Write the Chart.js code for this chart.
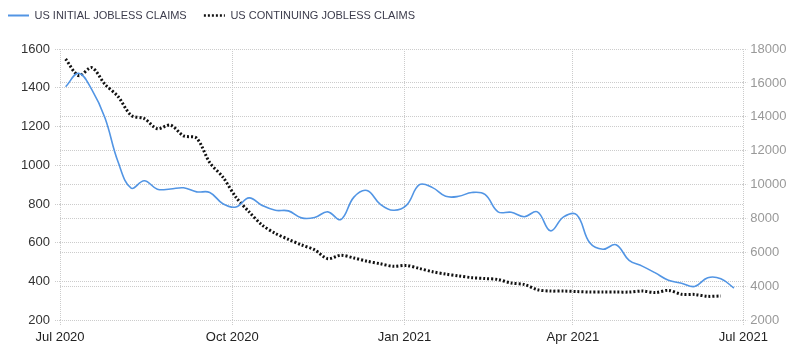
<!DOCTYPE html>
<html>
<head>
<meta charset="utf-8">
<script src="https://cdn.jsdelivr.net/npm/chart.js@4.4.1/dist/chart.umd.min.js"></script>
<style>
  html, body { margin: 0; padding: 0; background: #ffffff; }
  #wrap { width: 800px; height: 353px; }
</style>
</head>
<body>
<div id="wrap"><canvas id="c" width="800" height="353"></canvas></div>
<script>
// ---- Data ----
const weekDates = [
  '2020-07-04','2020-07-11','2020-07-18','2020-07-25','2020-08-01','2020-08-08','2020-08-15','2020-08-22','2020-08-29',
  '2020-09-05','2020-09-12','2020-09-19','2020-09-26','2020-10-03','2020-10-10','2020-10-17','2020-10-24','2020-10-31',
  '2020-11-07','2020-11-14','2020-11-21','2020-11-28','2020-12-05','2020-12-12','2020-12-19','2020-12-26',
  '2021-01-02','2021-01-09','2021-01-16','2021-01-23','2021-01-30','2021-02-06','2021-02-13','2021-02-20','2021-02-27',
  '2021-03-06','2021-03-13','2021-03-20','2021-03-27','2021-04-03','2021-04-10','2021-04-17','2021-04-24',
  '2021-05-01','2021-05-08','2021-05-15','2021-05-22','2021-05-29','2021-06-05','2021-06-12','2021-06-19','2021-06-26'
];
// US initial jobless claims (thousands) - left axis
const initialClaims = [1405,1475,1390,1245,1018,882,920,877,878,884,863,860,802,785,832,793,768,765,729,731,760,720,
  836,870,800,768,793,900,885,840,840,860,850,760,758,735,760,662,734,745,600,567,590,510,480,445,407,392,375,420,415,367];
// US continuing jobless claims (thousands) - right axis
const continuingClaims = [17410,16430,16900,15920,15200,14090,13900,13300,13515,12880,12740,11300,10450,9260,8400,
  7620,7130,6780,6450,6160,5640,5840,5680,5490,5340,5190,5240,5060,4870,4730,4620,4520,4470,4410,4200,4120,
  3810,3730,3730,3700,3670,3670,3670,3670,3730,3640,3770,3540,3530,3420,3440];
const seriesNames = ['US INITIAL JOBLESS CLAIMS', 'US CONTINUING JOBLESS CLAIMS'];
const tickDates = ['2020-07-01','2020-10-01','2021-01-01','2021-04-01','2021-07-01'];
const tickLabels = ['Jul 2020','Oct 2020','Jan 2021','Apr 2021','Jul 2021'];

// ---- Helpers ----
const origin = Date.UTC(2020, 6, 1);
function dayNum(s) {
  const p = s.split('-').map(Number);
  return Math.round((Date.UTC(p[0], p[1] - 1, p[2]) - origin) / 86400000);
}
const tickDays = tickDates.map(dayNum);
const initialPts = initialClaims.map((v, i) => ({ x: dayNum(weekDates[i]), y: v }));
const continuingPts = continuingClaims.map((v, i) => ({ x: dayNum(weekDates[i]), y: v }));

const FONT = "'Liberation Sans', Arial, sans-serif";
const DOTS = [2, 2];

const legendHeightPlugin = {
  id: 'legendHeight',
  beforeInit(chart) {
    const origFit = chart.legend.fit;
    chart.legend.fit = function () {
      origFit.bind(chart.legend)();
      this.height = 47;
    };
  }
};

new Chart(document.getElementById('c'), {
  type: 'line',
  data: {
    datasets: [
      {
        label: seriesNames[0],
        data: initialPts,
        yAxisID: 'yL',
        borderColor: '#5295e4',
        backgroundColor: '#5295e4',
        borderWidth: 1.6,
        pointRadius: 0,
        tension: 0.4,
        fill: false
      },
      {
        label: seriesNames[1],
        data: continuingPts,
        yAxisID: 'yR',
        borderColor: '#111111',
        backgroundColor: '#111111',
        borderWidth: 3,
        borderDash: DOTS,
        pointRadius: 0,
        tension: 0.3,
        fill: false
      }
    ]
  },
  options: {
    responsive: false,
    animation: false,
    layout: { padding: { top: 2, left: 0, right: 0, bottom: 0 } },
    plugins: {
      tooltip: { enabled: false },
      legend: {
        position: 'top',
        align: 'start',
        labels: {
          usePointStyle: true,
          pointStyle: 'line',
          pointStyleWidth: 21,
          padding: 8,
          color: '#3c3c4c',
          font: { family: FONT, size: 11 },
          generateLabels(chart) {
            const items = Chart.defaults.plugins.legend.labels.generateLabels(chart);
            items.forEach((it, i) => {
              it.pointStyle = 'line';
              it.strokeStyle = chart.data.datasets[i].borderColor;
              if (i === 0) {
                it.lineWidth = 2;
                it.lineDash = [];
                it.text = it.text + '   ';
              } else {
                it.lineWidth = 2.5;
                it.lineDash = DOTS;
              }
            });
            return items;
          }
        }
      }
    },
    scales: {
      x: {
        type: 'linear',
        min: tickDays[0],
        max: tickDays[tickDays.length - 1],
        afterBuildTicks(axis) { axis.ticks = tickDays.map(v => ({ value: v })); },
        afterFit(axis) { axis.height = 32.6; },
        ticks: {
          autoSkip: false,
          maxRotation: 0,
          padding: 4,
          color: '#222222',
          font: { family: FONT, size: 13 },
          callback(v) { const i = tickDays.indexOf(v); return i >= 0 ? tickLabels[i] : ''; }
        },
        grid: { color: '#cccccc', lineWidth: 1, tickLength: 5, tickBorderDash: [1, 1], tickColor: '#cccccc' },
        border: { display: false, dash: [1, 1] }
      },
      yL: {
        position: 'left',
        min: 200,
        max: 1600,
        afterFit(axis) { axis.width = 60; },
        ticks: {
          stepSize: 200,
          padding: 5,
          color: '#333333',
          font: { family: FONT, size: 13 },
          callback(v) { return String(v); }
        },
        grid: { color: '#cccccc', lineWidth: 1, tickLength: 5, tickBorderDash: [1, 1], tickColor: '#cccccc' },
        border: { display: false, dash: [1, 1] }
      },
      yR: {
        position: 'right',
        min: 2000,
        max: 18000,
        afterFit(axis) { axis.width = 56.7; },
        ticks: {
          stepSize: 2000,
          padding: 3,
          color: '#999999',
          font: { family: FONT, size: 13 },
          callback(v) { return String(v); }
        },
        grid: { color: '#cccccc', lineWidth: 1, tickLength: 4, tickBorderDash: [1, 1], tickColor: '#cccccc' },
        border: { display: false, dash: [1, 1] }
      }
    }
  },
  plugins: [legendHeightPlugin]
});
</script>
</body>
</html>
